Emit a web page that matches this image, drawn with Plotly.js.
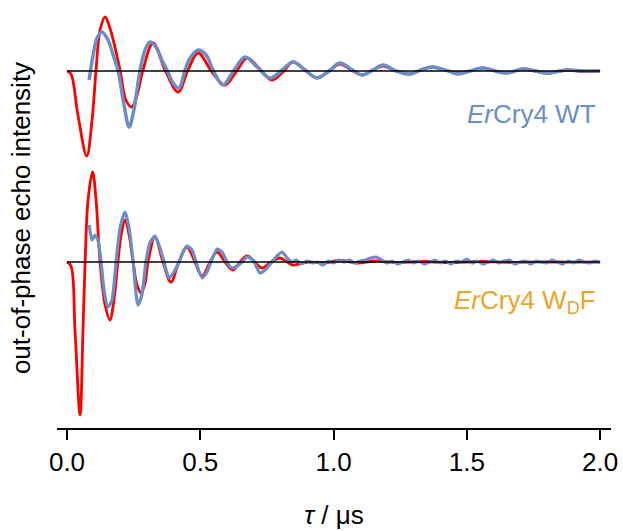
<!DOCTYPE html>
<html>
<head>
<meta charset="utf-8">
<script src="https://cdn.plot.ly/plotly-3.0.1.min.js"></script>
<style>html,body{margin:0;padding:0;background:#fff;}#chart{width:623px;height:531px;}</style>
</head>
<body>
<div id="chart"></div>
<script>
// ---- Data (tau in microseconds, intensity in arbitrary units) ----
const wtSimX = [0.000,0.015,0.041,0.074,0.094,0.109,0.124,0.143,0.161,0.199,0.221,0.243,0.263,0.285,0.323,0.368,0.417,0.454,0.492,0.544,0.593,0.634,0.675,0.720,0.769,0.810,0.848,0.893,0.938,0.983,1.024,1.066,1.107,1.148,1.186,1.235,1.287,1.328,1.370,1.418,1.467,1.512,1.561,1.606,1.651,1.711,1.756,1.801,1.876,1.936,2.000];
const wtSimY = [0.00,-0.03,-0.44,-0.85,-0.49,0.01,0.41,0.54,0.43,0.01,-0.29,-0.36,-0.24,0.01,0.28,0.01,-0.21,0.01,0.18,-0.01,-0.14,-0.01,0.13,0.03,-0.09,-0.01,0.09,0.01,-0.07,0.00,0.07,0.01,-0.04,0.01,0.05,0.00,-0.03,0.01,0.04,0.01,-0.02,0.00,0.03,0.00,-0.02,0.02,0.00,-0.02,0.01,-0.005,0.00];

const wtExpX = [0.083,0.098,0.113,0.131,0.154,0.173,0.191,0.214,0.233,0.251,0.274,0.293,0.311,0.334,0.356,0.375,0.398,0.420,0.443,0.462,0.492,0.522,0.548,0.585,0.627,0.668,0.713,0.762,0.807,0.848,0.893,0.938,0.983,1.024,1.066,1.107,1.148,1.186,1.235,1.287,1.328,1.370,1.418,1.467,1.512,1.561,1.606,1.651,1.711,1.756,1.801,1.876,1.936,2.000];
const wtExpY = [-0.09,0.16,0.33,0.39,0.31,0.16,0.01,-0.34,-0.56,-0.39,0.01,0.21,0.29,0.24,0.11,0.01,-0.12,-0.17,0.01,0.13,0.21,0.16,0.01,-0.14,0.01,0.14,0.04,-0.07,0.01,0.09,0.01,-0.07,0.00,0.08,0.02,-0.04,0.01,0.06,0.00,-0.03,0.01,0.04,0.01,-0.03,0.00,0.03,0.00,-0.02,0.02,0.00,-0.02,0.01,0.00,0.00];

const wdfSimX = [0.000,0.015,0.030,0.049,0.060,0.068,0.079,0.096,0.109,0.124,0.143,0.161,0.176,0.191,0.203,0.218,0.233,0.248,0.263,0.278,0.293,0.304,0.330,0.360,0.390,0.420,0.450,0.480,0.507,0.537,0.563,0.593,0.623,0.649,0.675,0.705,0.732,0.765,0.799,0.826,0.848,0.904,0.961,1.024,1.088,1.156,1.231,1.325,1.437,1.550,1.662,1.775,1.887,2.000];
const wdfSimY = [0.00,-0.04,-0.68,-1.53,-0.68,0.00,0.62,0.90,0.62,0.00,-0.43,-0.58,-0.38,0.00,0.27,0.42,0.27,0.00,-0.23,-0.31,-0.21,0.00,0.25,0.00,-0.20,0.00,0.15,0.00,-0.14,0.00,0.10,0.00,-0.08,0.00,0.06,0.00,-0.06,0.00,0.04,0.00,-0.03,0.00,-0.01,0.015,-0.01,0.01,-0.005,0.005,-0.005,0.005,-0.003,0.002,-0.002,0.00];

const wdfExpX = [0.083,0.094,0.105,0.116,0.128,0.139,0.154,0.169,0.184,0.199,0.218,0.233,0.248,0.266,0.281,0.296,0.311,0.330,0.349,0.364,0.383,0.401,0.420,0.435,0.450,0.469,0.484,0.507,0.525,0.540,0.563,0.582,0.600,0.619,0.638,0.657,0.675,0.698,0.724,0.743,0.769,0.788,0.807,0.826,0.844,
  0.86,0.88,0.90,0.92,0.94,0.96,0.98,1.00,1.02,1.04,1.06,1.08,1.10,1.12,1.14,1.16,1.18,1.20,1.22,1.24,1.26,1.28,1.30,1.32,1.34,1.36,1.38,1.40,1.42,1.44,1.46,1.48,1.50,1.52,1.54,1.56,1.58,1.60,1.62,1.64,1.66,1.68,1.70,1.72,1.74,1.76,1.78,1.80,1.82,1.84,1.86,1.88,1.90,1.92,1.94,1.96,1.98,2.00];
const wdfExpY = [0.37,0.22,0.27,0.22,0.00,-0.28,-0.45,-0.38,0.00,0.34,0.50,0.34,0.00,-0.43,-0.33,0.00,0.19,0.26,0.14,0.00,-0.16,-0.10,0.00,0.10,0.16,0.12,0.00,-0.16,-0.10,0.00,0.13,0.10,0.00,-0.06,-0.04,0.00,0.05,0.02,-0.11,-0.08,0.00,0.06,0.10,0.04,0.00,
  0.02,-0.02,0.01,-0.01,0.00,-0.03,0.01,-0.01,0.02,0.00,0.02,-0.01,0.01,0.02,0.04,0.05,0.02,-0.01,0.01,-0.02,0.00,0.02,-0.01,0.01,-0.02,0.00,0.02,-0.01,0.01,-0.02,0.01,0.00,0.03,-0.01,0.01,-0.02,0.00,0.02,-0.01,0.01,0.02,-0.02,0.00,0.01,-0.02,0.01,0.00,-0.01,0.02,0.00,-0.02,0.01,-0.01,0.02,0.00,-0.01,0.01,0.00];

const baselineX = [0.0, 2.0];
const tickVals = [0.0, 0.5, 1.0, 1.5, 2.0];
const tickText = ['0.0', '0.5', '1.0', '1.5', '2.0'];
const labelWT = '<i>Er</i>Cry4 WT';
const labelWDF = '<i>Er</i>Cry4 W<sub>D</sub>F';

// ---- Presentation ----
const WT_OFFSET = 1.91;   // vertical stacking offset of the WT trace
const RED = '#ff0000', BLUE = '#6c8ec6', ORANGE = '#eba42c';
const shift = (arr, d) => arr.map(v => v + d);

const traces = [
  {x: wtSimX, y: shift(wtSimY, WT_OFFSET), mode: 'lines', line: {color: RED, width: 2.8, shape: 'spline', smoothing: 1}, hoverinfo: 'skip'},
  {x: wdfSimX, y: wdfSimY, mode: 'lines', line: {color: RED, width: 2.8, shape: 'spline', smoothing: 1}, hoverinfo: 'skip'},
  {x: wtExpX, y: shift(wtExpY, WT_OFFSET), mode: 'lines', line: {color: BLUE, width: 3.5, shape: 'spline', smoothing: 1}, hoverinfo: 'skip'},
  {x: wdfExpX, y: wdfExpY, mode: 'lines', line: {color: BLUE, width: 3.2, shape: 'spline', smoothing: 0.6}, hoverinfo: 'skip'},
  {x: baselineX, y: [WT_OFFSET, WT_OFFSET], mode: 'lines', line: {color: '#000', width: 1.5}, hoverinfo: 'skip'},
  {x: baselineX, y: [0, 0], mode: 'lines', line: {color: '#000', width: 1.5}, hoverinfo: 'skip'}
];

const FONT = 'Liberation Sans, Arial, sans-serif';
const layout = {
  width: 623, height: 531,
  margin: {l: 57, r: 12, t: 8, b: 103},
  paper_bgcolor: '#fff', plot_bgcolor: '#fff',
  showlegend: false,
  font: {family: FONT, color: '#000', size: 26},
  xaxis: {
    range: [-0.0375, 2.041],
    tickvals: tickVals, ticktext: tickText,
    ticks: 'outside', ticklen: 10, tickwidth: 2, tickcolor: '#000',
    showline: true, linecolor: '#000', linewidth: 2,
    showgrid: false, zeroline: false,
    tickfont: {family: FONT, size: 26, color: '#000'},
    title: {text: '<i>τ</i> / μs', font: {family: FONT, size: 26, color: '#000'}, standoff: 30}
  },
  yaxis: {
    range: [-1.66, 2.54],
    showticklabels: false, ticks: '', showline: false, showgrid: false, zeroline: false,
    title: {text: 'out-of-phase echo intensity', font: {family: FONT, size: 26, color: '#000'}, standoff: 17}
  },
  annotations: [
    {text: labelWT, xref: 'paper', yref: 'y', x: 0.9765, y: WT_OFFSET - 0.43, xanchor: 'right', yanchor: 'middle', showarrow: false, font: {family: FONT, size: 26, color: BLUE}},
    {text: labelWDF, xref: 'paper', yref: 'y', x: 0.9765, y: -0.39, xanchor: 'right', yanchor: 'middle', showarrow: false, font: {family: FONT, size: 26, color: ORANGE}}
  ]
};

Plotly.newPlot('chart', traces, layout, {displayModeBar: false, staticPlot: true});
</script>
</body>
</html>
